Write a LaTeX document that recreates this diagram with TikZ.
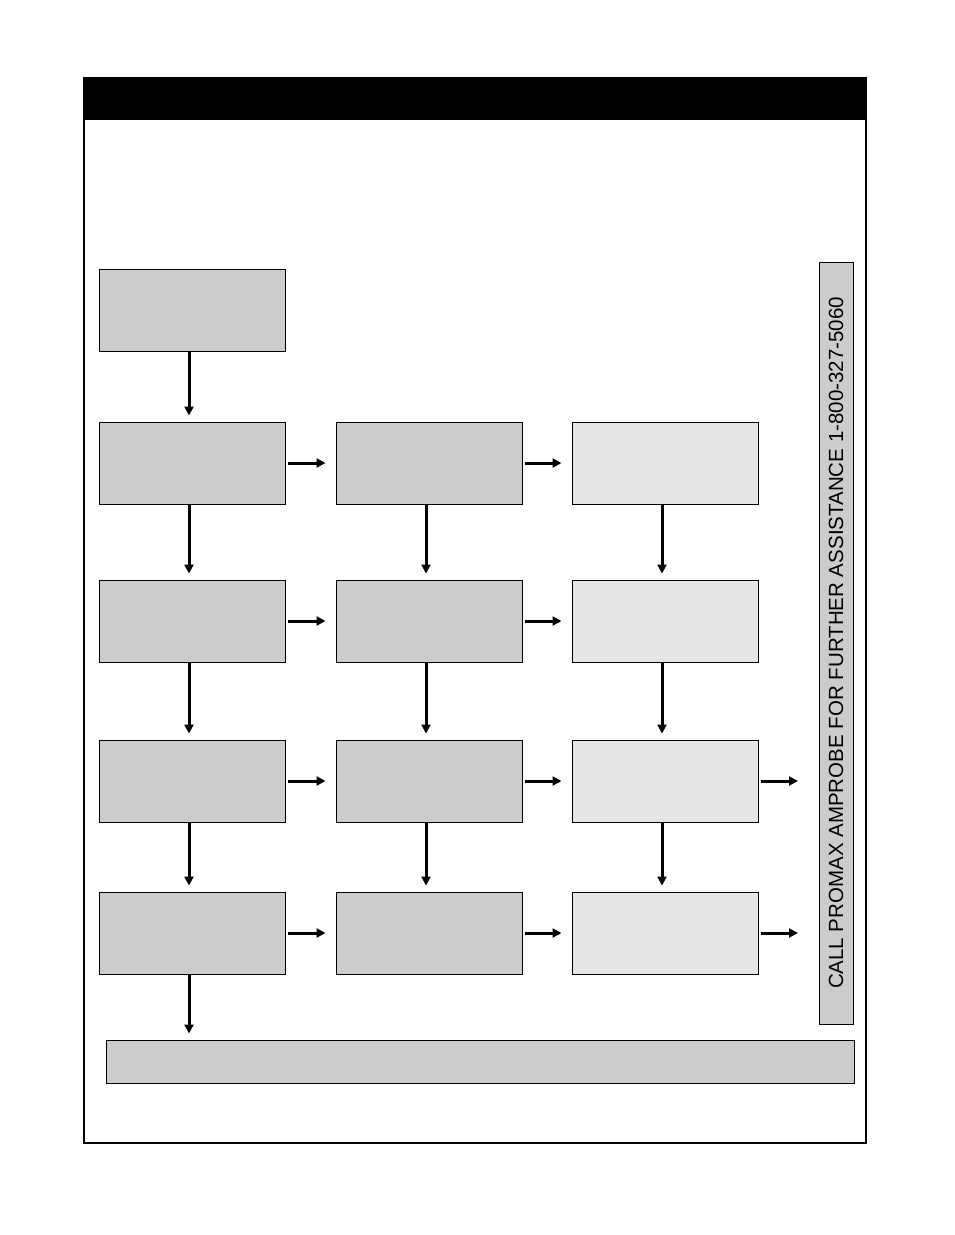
\documentclass[tikz,border=0pt]{standalone}
\usepackage{fontspec}
\setmainfont{Liberation Sans}
\usetikzlibrary{arrows.meta}
\definecolor{dk}{HTML}{CCCCCC}
\definecolor{lt}{HTML}{E6E6E6}
\begin{document}
\begin{tikzpicture}[x=1pt,y=-1pt,
  box/.style={draw=black,line width=1pt,minimum width=186pt,minimum height=82pt,inner sep=0pt},
  dbox/.style={box,fill=dk},
  lbox/.style={box,fill=lt},
  arr/.style={line width=3pt,-{Triangle[length=9pt,width=9pt]}}]
\useasboundingbox (0,0) rectangle (954,1235);
\draw[line width=2pt] (84,78) rectangle (866,1143);
\fill (84,78) rectangle (866,120);
% column centres 192, 429, 665
\node[dbox] (a0) at (192,310) {};
\node[dbox] (a1) at (192,463) {};
\node[dbox] (b1) at (429,463) {};
\node[lbox] (c1) at (665,463) {};
\node[dbox] (a2) at (192,621) {};
\node[dbox] (b2) at (429,621) {};
\node[lbox] (c2) at (665,621) {};
\node[dbox] (a3) at (192,781) {};
\node[dbox] (b3) at (429,781) {};
\node[lbox] (c3) at (665,781) {};
\node[dbox] (a4) at (192,933) {};
\node[dbox] (b4) at (429,933) {};
\node[lbox] (c4) at (665,933) {};
\node[draw,line width=1pt,fill=dk,minimum width=748pt,minimum height=43pt,inner sep=0pt] (bar) at (480,1061.5) {};
\node[draw,line width=1pt,fill=dk,minimum width=34pt,minimum height=762pt,inner sep=0pt] (side) at (836,643) {};
\node[rotate=90,font=\fontsize{20.5}{24}\selectfont] (sidetext) at (836,643) {CALL PROMAX AMPROBE FOR FURTHER ASSISTANCE 1-800-327-5060};
% vertical arrows
\foreach \t/\b in {a0/a1,a1/a2,a2/a3,a3/a4,b1/b2,b2/b3,b3/b4,c1/c2,c2/c3,c3/c4}
  \draw[arr,shorten >=6pt] ([xshift=-3pt]\t.south) -- ([xshift=-3pt]\b.north);
\draw[arr,shorten >=6pt] ([xshift=-3pt]a4.south) -- ([xshift=-3pt]a4.south |- bar.north);
% horizontal arrows
\foreach \l/\r in {a1/b1,b1/c1,a2/b2,b2/c2,a3/b3,b3/c3,a4/b4,b4/c4}
  \draw[arr,shorten <=2pt,shorten >=10pt] (\l.east) -- (\r.west);
\coordinate (e3) at (798,781);
\coordinate (e4) at (798,933);
\draw[arr,shorten <=2pt] (c3.east) -- (e3);
\draw[arr,shorten <=2pt] (c4.east) -- (e4);
\end{tikzpicture}
\end{document}
